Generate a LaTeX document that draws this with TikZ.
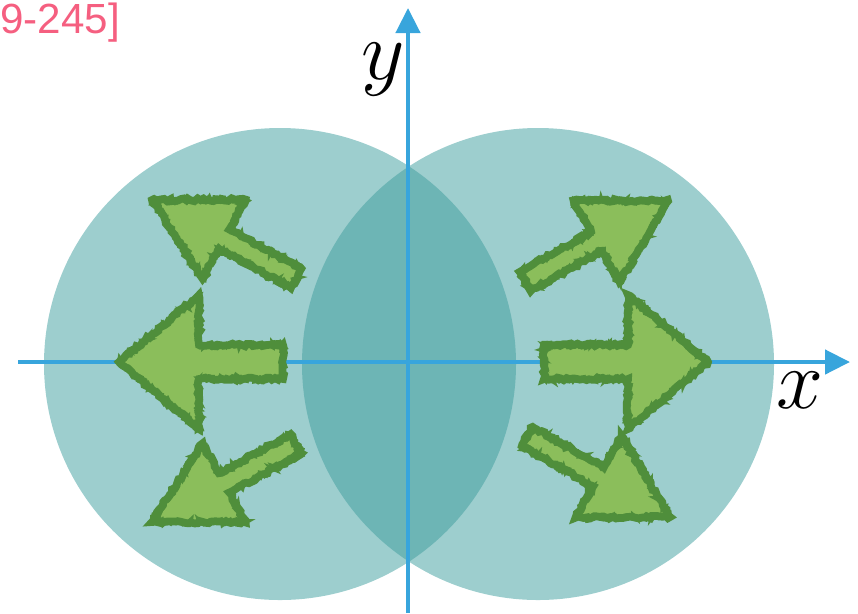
\RequirePackage{fix-cm}
\documentclass[tikz,border=0pt]{standalone}
\usepackage{fontspec}
\newfontfamily\notefont{Liberation Sans}
\usepackage{xcolor}
\usepackage{tikz}
\usetikzlibrary{arrows.meta,decorations.pathmorphing}
\definecolor{CircleTeal}{HTML}{9DCECE}
\definecolor{LensTeal}{HTML}{6DB5B5}
\definecolor{AxisBlue}{HTML}{38A5DC}
\definecolor{ArrowGreen}{HTML}{8BBE5B}
\definecolor{ArrowEdge}{HTML}{4F8E3B}
\definecolor{NoteRed}{HTML}{F55F80}

% block arrow: tip, angle, head length, head half width, shaft half width, length
\newcommand{\sketchArrow}[6]{%
  \begin{scope}[shift={#1},rotate=#2]
    \fill[ArrowGreen] (0,0) -- (-#3,#4) -- (-#3,#5) -- (-#6,#5) -- (-#6,-#5) -- (-#3,-#5) -- (-#3,-#4) -- cycle;
    \draw[rough edge] (0,0) -- (-#3,#4) -- (-#3,#5) -- (-#6,#5) -- (-#6,-#5) -- (-#3,-#5) -- (-#3,-#4) -- cycle;
    \draw[rough edge,line width=2.4pt,decoration={random steps,segment length=1.2pt,amplitude=1.5pt}] (0,0) -- (-#3,#4) -- (-#3,#5) -- (-#6,#5) -- (-#6,-#5) -- (-#3,-#5) -- (-#3,-#4) -- cycle;
  \end{scope}}

\begin{document}
\begin{tikzpicture}[x=0.02cm,y=-0.02cm,
  rough edge/.style={draw=ArrowEdge,line width=4.4pt,miter limit=4,
    decorate,decoration={random steps,segment length=1.6pt,amplitude=0.8pt}},
  axis line/.style={draw=AxisBlue,line width=0.09cm,
    -{Triangle[length=0.5cm,width=0.48cm]}},
  axis label/.style={inner sep=0pt,font=\fontsize{48}{52}\selectfont}]
  \pgfmathsetseed{245}
  \useasboundingbox (0,0) rectangle (858,613);

  % the two discs and their overlap
  \fill[CircleTeal] (280,364) circle (236);
  \fill[CircleTeal] (538,364) circle (236);
  \begin{scope}
    \clip (280,364) circle (236);
    \fill[LensTeal] (538,364) circle (236);
  \end{scope}

  % axes
  \coordinate (xneg) at (18,362);
  \coordinate (xpos) at (850,362);
  \coordinate (yneg) at (408,613);
  \coordinate (ypos) at (408,8);
  \draw[axis line] (xneg) -- (xpos);
  \draw[axis line] (yneg) -- (ypos);
  \node[axis label] (ylab) at (383,70) {$y$};
  \node[axis label] (xlab) at (800,390) {$x$};

  % arrows pointing outwards
  \sketchArrow{(119,362)}{180}{80}{67}{17}{164}
  \sketchArrow{(708,362)}{0}{80}{67}{17}{164}
  \sketchArrow{(152,200)}{151.5}{82}{45}{11}{164}
  \sketchArrow{(668,201)}{29.4}{82}{47}{11}{164}
  \sketchArrow{(152,522)}{208.5}{82}{45}{11}{164}
  \sketchArrow{(670,517)}{330.6}{82}{47}{11}{164}

  \node[anchor=base west,inner sep=0pt,text=NoteRed,font=\notefont\fontsize{24}{28}\selectfont] (note) at (0,33) {9-245]};
\end{tikzpicture}
\end{document}
